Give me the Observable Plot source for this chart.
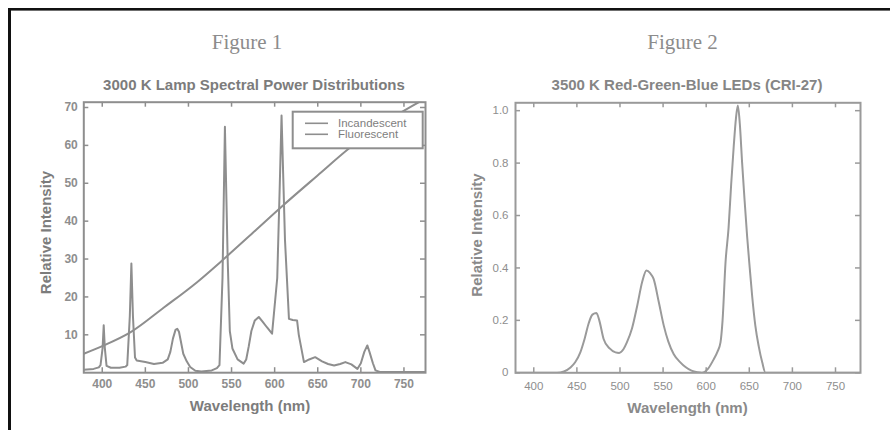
<!DOCTYPE html>
<html><head><meta charset="utf-8">
<script src="https://cdn.jsdelivr.net/npm/d3@7"></script>
<script src="https://cdn.jsdelivr.net/npm/@observablehq/plot@0.6"></script>
<style>
html,body{margin:0;padding:0;background:#fff;}
#wrap{position:relative;width:890px;height:430px;overflow:hidden;background:#fff;}
#p1,#p2{position:absolute;top:90px;}
#p1{left:0}
#p2{left:445px}
#overlay{position:absolute;left:0;top:0;pointer-events:none;}
</style></head><body>
<div id="wrap">
  <div id="p1"></div>
  <div id="p2"></div>
  <svg id="overlay" width="890" height="430"></svg>
</div>
<script>
// ---------- data ----------
const figureNames = ["Figure 1", "Figure 2"];
const chartTitles = ["3000 K Lamp Spectral Power Distributions", "3500 K Red-Green-Blue LEDs (CRI-27)"];
const xLabel = "Wavelength (nm)";
const yLabel = "Relative Intensity";
const seriesNames = ["Incandescent", "Fluorescent"];

const fluorWavelength = [378.6, 390, 396, 398, 400.4, 401.7, 403, 405, 410, 420, 427, 429, 432, 433.8, 435.6, 438, 440, 450, 460, 470, 476, 479, 482, 485, 487, 489, 491, 494, 498, 502, 508, 515, 527, 533, 536, 539.5, 542.3, 545.5, 548, 551, 557, 564, 567, 570, 573, 577, 581.6, 586, 591, 597, 603, 606, 608, 612, 616.6, 621, 626, 628, 634, 640, 647, 655, 662, 669, 676, 682, 689, 696, 700, 704, 707.5, 710, 714, 717, 722, 775];
const fluorIntensity  = [0.8, 1.0, 1.4, 2, 6.5, 12.5, 6.5, 1.8, 1.3, 1.3, 1.6, 2, 15, 28.8, 15, 4, 3.2, 2.8, 2.3, 2.6, 3.5, 5.5, 9, 11.3, 11.6, 10.8, 8.5, 5, 3, 1.5, 0.5, 0.3, 0.6, 1.2, 2, 25, 64.9, 30, 11, 6.4, 3.5, 2.4, 3.5, 7, 11, 13.8, 14.7, 13.5, 12, 10.3, 25, 50, 67.9, 35, 14.2, 13.9, 13.8, 10, 2.8, 3.5, 4.1, 3, 2.3, 1.9, 2.3, 2.8, 2.2, 1, 2.5, 5.5, 7.2, 5.5, 2.5, 0.6, 0.2, 0.2];

const incandWavelength = [378.6, 400, 433, 471.5, 510, 541, 578, 609, 649.5, 688, 738, 776];
const incandIntensity  = [5.0, 7.0, 10.7, 17.2, 23.9, 30.0, 37.6, 44.0, 52.0, 59.5, 67.5, 72.5];

const ledWavelength = [378.8, 427, 435, 442.6, 448, 454, 459, 463.8, 468, 472.7, 476, 481, 488, 494.8, 499, 504, 508, 514, 520, 526, 530.7, 535, 539, 545, 550.8, 556, 562.4, 570, 576, 583, 590, 595, 602, 608.8, 613, 616.6, 619, 622.4, 626, 629, 632, 634.5, 636.7, 639, 641.7, 644.5, 647.5, 650.5, 653.4, 657, 661, 665, 668.8, 779];
const ledIntensity  = [0, 0, 0.005, 0.02, 0.04, 0.078, 0.13, 0.19, 0.222, 0.228, 0.2, 0.129, 0.093, 0.078, 0.076, 0.09, 0.116, 0.17, 0.256, 0.35, 0.39, 0.38, 0.358, 0.27, 0.18, 0.12, 0.071, 0.04, 0.022, 0.008, 0.002, 0, 0.015, 0.052, 0.08, 0.116, 0.2, 0.42, 0.555, 0.72, 0.867, 0.97, 1.02, 0.95, 0.80, 0.66, 0.52, 0.4, 0.29, 0.18, 0.10, 0.04, 0, 0];

const fig1XTicks = [400, 450, 500, 550, 600, 650, 700, 750];
const fig1YTicks = [10, 20, 30, 40, 50, 60, 70];
const fig2XTicks = [400, 450, 500, 550, 600, 650, 700, 750];
const fig2YTicks = [0, 0.2, 0.4, 0.6, 0.8, 1.0];

// ---------- tables ----------
const fluor = fluorWavelength.map((w, i) => ({w, v: fluorIntensity[i]}));
const incand = incandWavelength.map((w, i) => ({w, v: incandIntensity[i]}));
const led = ledWavelength.map((w, i) => ({w, v: ledIntensity[i]}));

const FONT = "'Liberation Sans', Arial, Helvetica, sans-serif";

function inwardTicks(xt, yt, innerW, innerH, color) {
  const len = 5;
  return [
    Plot.tickX(xt, {x: d => d, insetTop: innerH - len, stroke: color, strokeWidth: 1.5}),
    Plot.tickX(xt, {x: d => d, insetBottom: innerH - len, stroke: color, strokeWidth: 1.5}),
    Plot.tickY(yt, {y: d => d, insetRight: innerW - len, stroke: color, strokeWidth: 1.5}),
    Plot.tickY(yt, {y: d => d, insetLeft: innerW - len, stroke: color, strokeWidth: 1.5})
  ];
}

// ---------- Figure 1 ----------
{
  const W = 445, H = 310, mL = 83.3, mR = 20, mT = 11.7, mB = 27.8;
  const c = "#8e8e8e";
  const p = Plot.plot({
    width: W, height: H, marginLeft: mL, marginRight: mR, marginTop: mT, marginBottom: mB,
    style: {fontFamily: FONT, fontSize: "12px", color: "#8a8a8a", background: "transparent", overflow: "visible"},
    x: {domain: [378.6, 775]},
    y: {domain: [0, 71.4]},
    marks: [
      ...inwardTicks(fig1XTicks, fig1YTicks, W - mL - mR, H - mT - mB, c),
      Plot.axisX(fig1XTicks, {anchor: "bottom", tickSize: 0, tickPadding: 7, label: null, fontWeight: "bold", fill: "#8e8e8e"}),
      Plot.axisY(fig1YTicks, {anchor: "left", tickSize: 0, tickPadding: 6, label: null, fontWeight: "bold", fill: "#8e8e8e"}),
      Plot.line(incand, {x: "w", y: "v", stroke: c, strokeWidth: 2, curve: "monotone-x", clip: true}),
      Plot.line(fluor, {x: "w", y: "v", stroke: c, strokeWidth: 2, curve: "linear", strokeLinejoin: "round", clip: true}),
      Plot.frame({stroke: c, strokeWidth: 2})
    ]
  });
  document.getElementById("p1").appendChild(p);
}

// ---------- Figure 2 ----------
{
  const W = 445, H = 310, mL = 70, mR = 30, mT = 12.3, mB = 27.7;
  const c = "#9a9a9a";
  const p = Plot.plot({
    width: W, height: H, marginLeft: mL, marginRight: mR, marginTop: mT, marginBottom: mB,
    style: {fontFamily: FONT, fontSize: "11.5px", color: "#8e8e8e", background: "transparent", overflow: "visible"},
    x: {domain: [378.8, 779]},
    y: {domain: [0, 1.03]},
    marks: [
      ...inwardTicks(fig2XTicks, fig2YTicks, W - mL - mR, H - mT - mB, c),
      Plot.axisX(fig2XTicks, {anchor: "bottom", tickSize: 0, tickPadding: 9, label: null, fill: "#8e8e8e"}),
      Plot.axisY(fig2YTicks, {anchor: "left", tickSize: 0, tickPadding: 7, label: null, fill: "#8e8e8e",
        tickFormat: d => d === 0 ? "0" : d.toFixed(1)}),
      Plot.line(led, {x: "w", y: "v", stroke: c, strokeWidth: 2, curve: "monotone-x", clip: true}),
      Plot.frame({stroke: c, strokeWidth: 2})
    ]
  });
  document.getElementById("p2").appendChild(p);
}

// ---------- overlay: border, titles, axis labels, legend ----------
const svg = d3.select("#overlay");
svg.append("rect").attr("x", 8).attr("y", 8).attr("width", 882).attr("height", 2.6).attr("fill", "#111");
svg.append("rect").attr("x", 8).attr("y", 8).attr("width", 3).attr("height", 422).attr("fill", "#111");

const figX = [247, 682.5];
figureNames.forEach((t, i) => {
  svg.append("text").attr("x", figX[i]).attr("y", 48.5).attr("text-anchor", "middle")
    .attr("font-family", "'Liberation Serif', 'DejaVu Serif', serif").attr("font-size", 21)
    .attr("fill", "#8c8c8c").text(t);
});
const titleX = [254, 687];
chartTitles.forEach((t, i) => {
  svg.append("text").attr("x", titleX[i]).attr("y", 89.5).attr("text-anchor", "middle")
    .attr("font-family", FONT).attr("font-size", 15).attr("font-weight", "bold")
    .attr("fill", i === 0 ? "#7c7c7c" : "#858585").text(t);
});
const xlX = [250, 687.5], xlY = [410.5, 413];
[0, 1].forEach(i => {
  svg.append("text").attr("x", xlX[i]).attr("y", xlY[i]).attr("text-anchor", "middle")
    .attr("font-family", FONT).attr("font-size", 15).attr("font-weight", "bold")
    .attr("fill", i === 0 ? "#7c7c7c" : "#8a8a8a").text(xLabel);
});
const ylX = [50.5, 482], ylY = [232.5, 235];
[0, 1].forEach(i => {
  svg.append("text").attr("transform", `translate(${ylX[i]},${ylY[i]}) rotate(-90)`).attr("text-anchor", "middle")
    .attr("font-family", FONT).attr("font-size", 15).attr("font-weight", "bold")
    .attr("fill", i === 0 ? "#7c7c7c" : "#8a8a8a").text(yLabel);
});

// legend (Figure 1)
const lg = svg.append("g");
lg.append("rect").attr("x", 292.7).attr("y", 111.7).attr("width", 130).attr("height", 36.6)
  .attr("fill", "#fff").attr("stroke", "#8e8e8e").attr("stroke-width", 2);
seriesNames.forEach((name, i) => {
  const y = 123.3 + i * 11;
  lg.append("line").attr("x1", 305).attr("x2", 328).attr("y1", y).attr("y2", y)
    .attr("stroke", "#8e8e8e").attr("stroke-width", 1.6);
  lg.append("text").attr("x", 338).attr("y", y + 3.8).attr("font-family", FONT).attr("font-size", 11.5)
    .attr("fill", "#7e7e7e").text(name);
});
</script>
</body></html>
